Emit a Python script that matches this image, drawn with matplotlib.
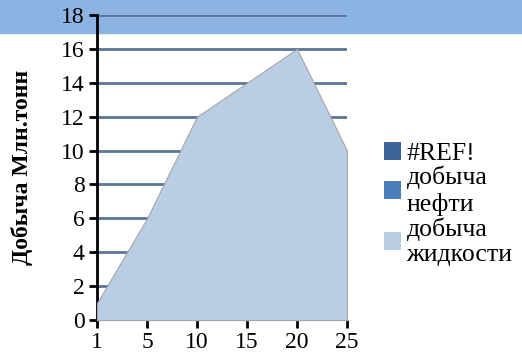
import matplotlib
matplotlib.use('Agg')
import matplotlib.pyplot as plt
from matplotlib.patches import Rectangle, Patch

plt.rcParams['font.family'] = ['Liberation Serif', 'DejaVu Serif']

# данные
categories = ['1', '5', '10', '15', '20', '25']
liquid = [1.0, 6.0, 12.0, 14.0, 16.0, 10.0]   # добыча жидкости
oil = [0.6, 0.0, 0.0, 0.0, 0.0, 0.0]          # добыча нефти
y_ticks = [0, 2, 4, 6, 8, 10, 12, 14, 16, 18]
legend_labels = ['#REF!', 'добыча\nнефти', 'добыча\nжидкости']

c_ref = '#3f6499'
c_oil = '#4a7ebb'
c_liq = '#b9cde5'
c_grid = '#5a769c'

fig = plt.figure(figsize=(5.22, 3.55), dpi=100)
fig.patches.append(Rectangle((0, 1 - 33 / 355), 1, 33 / 355, transform=fig.transFigure,
                             color='#8db3e2', zorder=-5))

ax = fig.add_axes([97 / 522, 1 - 320 / 355, 250 / 522, 305 / 355])
ax.patch.set_alpha(0)

x = list(range(len(categories)))
for t in y_ticks[1:]:
    ax.axhline(t, color=c_grid, lw=2, zorder=1)
ax.fill_between(x, oil, color=c_oil, zorder=2)
ax.fill_between(x, liquid, color=c_liq, edgecolor='#a6a6a6', lw=0.8, zorder=3)

ax.set_xlim(0, len(categories) - 1)
ax.set_ylim(0, 18)
ax.set_xticks(x)
ax.set_xticklabels(categories)
ax.set_yticks(y_ticks)
ax.tick_params(axis='both', labelsize=17, width=2, length=6, color='black', pad=3)
for s in ['top', 'right']:
    ax.spines[s].set_visible(False)
ax.spines['left'].set_linewidth(2)
ax.spines['bottom'].set_color('#d9d9d9')
ax.spines['bottom'].set_linewidth(1)
ax.set_ylabel('Добыча Млн.тонн', fontsize=17, fontweight='bold', labelpad=20)

handles = [Patch(facecolor=c_ref), Patch(facecolor=c_oil), Patch(facecolor=c_liq)]
fig.legend(handles, legend_labels, loc='upper left', bbox_to_anchor=(0.715, 0.63),
           frameon=False, fontsize=18.5, handlelength=0.7, handleheight=0.7,
           handletextpad=0.2, labelspacing=0.05, borderaxespad=0)

fig.savefig('out.png', dpi=100)
